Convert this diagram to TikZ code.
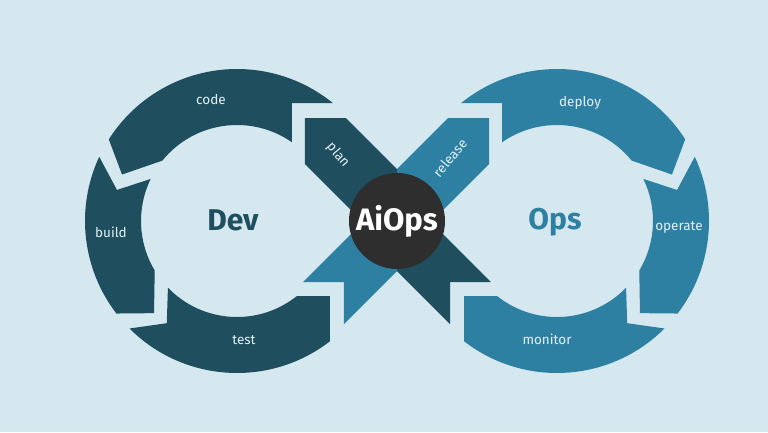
\documentclass[tikz,border=0pt]{standalone}
\usepackage{fontspec}
\setmainfont{Fira Sans}
\definecolor{bgblue}{RGB}{213,232,240}
\definecolor{devcolor}{RGB}{31,79,95}
\definecolor{opscolor}{RGB}{46,128,163}
\definecolor{hubcolor}{RGB}{46,46,46}
\definecolor{labelcolor}{RGB}{228,240,245}

% one half of the loop: ring pieces + two arms of the cross
\newcommand{\halfloop}[2]{%
  \begin{scope}[shift={(-160,0)}]
    % top piece
    \fill[#1] (50.9:152) arc[start angle=50.9, end angle=147.5, radius=152] -- (158:124) -- (141:96)
      arc[start angle=141, end angle=55.05, radius=96] -- (55,118) -- cycle;
    % side piece
    \fill[#1] (155:152) arc[start angle=155, end angle=217.5, radius=152] -- (228:124) -- (211:96)
      arc[start angle=211, end angle=154, radius=96] -- (165.5:124) -- cycle;
    % bottom piece
    \fill[#1] (225:152) arc[start angle=225, end angle=307.7, radius=152] -- (93,-75) -- (308.6:96)
      arc[start angle=308.6, end angle=224, radius=96] -- (235.5:124) -- cycle;
  \end{scope}
  % upper arm
  \fill[#1] (-92,103) -- (-51,103) -- (0,52) -- (0,0) -- (-35,0) -- (-92,57) -- cycle;
  % lower arm
  \fill[#2] (-94,-61) -- (-53,-61) -- (-53,-103) -- (0,-50) -- (0,0) -- (-33,0) -- cycle;
}

\begin{document}
\begin{tikzpicture}[x=1pt, y=1pt]
    % Define label styles
    \tikzstyle{lbl}=[text=labelcolor, font=\fontsize{13.5}{16}\selectfont, inner sep=0pt]
    \tikzstyle{side}=[font=\fontsize{30}{34}\selectfont\bfseries, inner sep=0pt]

    % Background
    \fill[bgblue] (-397,-211) rectangle (371,221);

    % Dev half and Ops half (mirrored)
    \halfloop{devcolor}{opscolor}
    \begin{scope}[xscale=-1]
        \halfloop{opscolor}{devcolor}
    \end{scope}

    % Hub
    \node[circle, fill=hubcolor, minimum size=96pt, inner sep=0pt, text=white,
          font=\fontsize{31}{34}\selectfont\bfseries] (hub) at (0,0) {AiOps};

    % Dev labels
    \node[side, text=devcolor] (dev) at (-164,1) {Dev};
    \node[lbl] (code) at (-186,121) {code};
    \node[lbl] (build) at (-286,-11) {build};
    \node[lbl] (test) at (-153,-119) {test};
    \node[lbl, rotate=-50] (plan) at (-59,66) {plan};

    % Ops labels
    \node[side, text=opscolor] (ops) at (158,-1) {Ops};
    \node[lbl] (deploy) at (183,118) {deploy};
    \node[lbl] (operate) at (282,-6) {operate};
    \node[lbl] (monitor) at (150,-118) {monitor};
    \node[lbl, rotate=50] (release) at (53,63) {release};
\end{tikzpicture}
\end{document}
